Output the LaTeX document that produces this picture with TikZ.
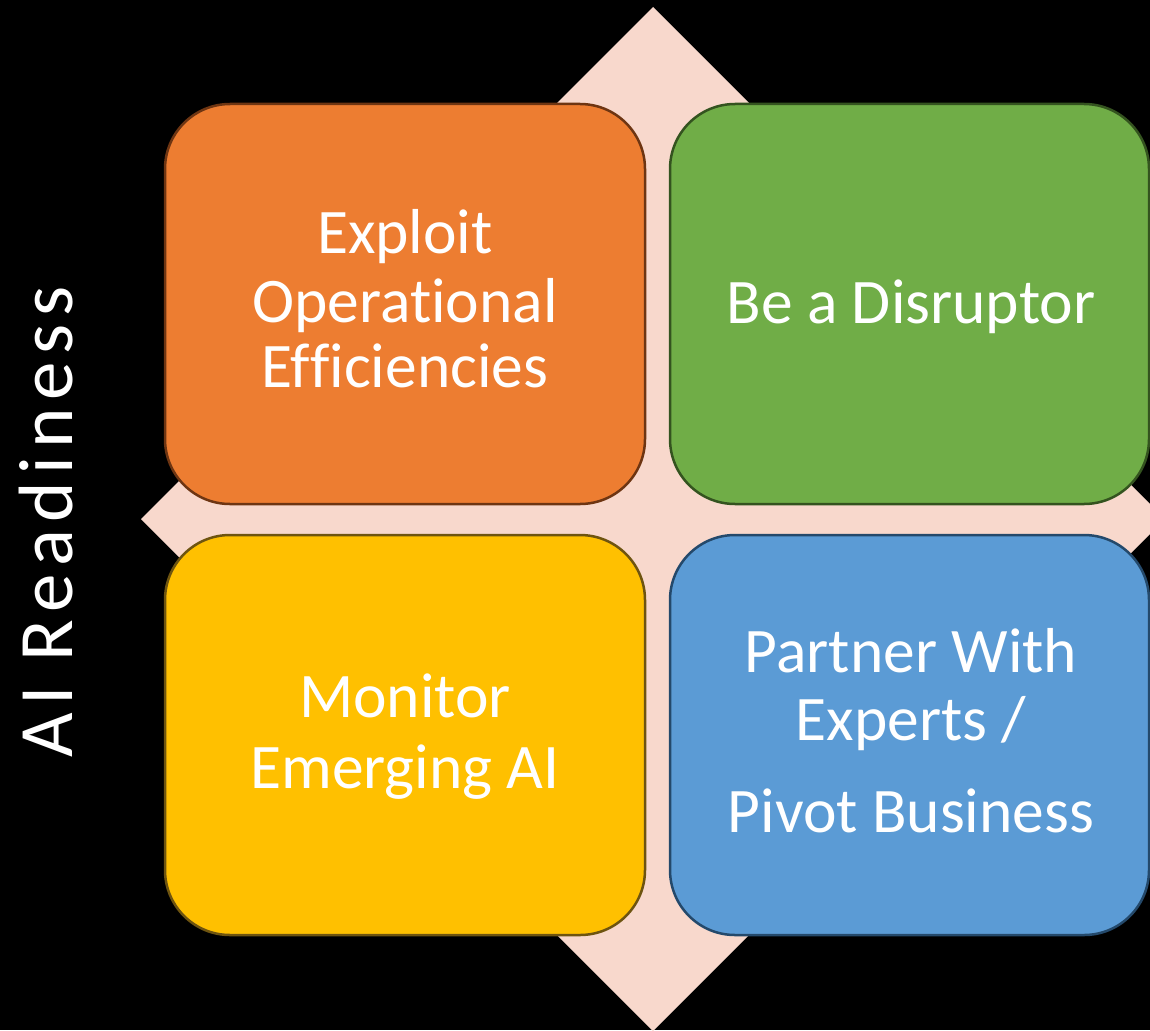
\documentclass[tikz,border=0pt]{standalone}
\usepackage{fontspec}
\setmainfont{Carlito}[Ligatures={NoCommon,NoContextual},RawFeature={-liga;-clig;-dlig}]
\newfontfamily\spacedfont[LetterSpace=10,Ligatures={NoCommon,NoContextual}]{Carlito}
\newcommand{\nolig}{\kern0pt\relax}
\definecolor{bgpink}{HTML}{F8D8CC}
\definecolor{orfill}{HTML}{ED7D31}
\definecolor{ordraw}{HTML}{6E3512}
\definecolor{grfill}{HTML}{70AD47}
\definecolor{grdraw}{HTML}{34531F}
\definecolor{yefill}{HTML}{FFC000}
\definecolor{yedraw}{HTML}{6E5410}
\definecolor{blfill}{HTML}{5B9BD5}
\definecolor{bldraw}{HTML}{24496B}
\tikzset{
  quad/.style={rectangle, rounded corners=65pt, minimum width=480pt, minimum height=400pt, line width=2.5pt, inner sep=0pt},
  lbl/.style={anchor=base, inner sep=0pt, text=white, font=\fontsize{63.5}{76}\selectfont}
}
\begin{document}
\begin{tikzpicture}[x=1pt,y=-1pt]
\fill[black] (0,0) rectangle (1150,1030);
\useasboundingbox (0,0) rectangle (1150,1030);
\begin{scope}
\clip (0,0) rectangle (1150,1030);
\fill[bgpink] (653,7) -- (1165,519) -- (653,1031) -- (141,519) -- cycle;
\node[quad, fill=orfill, draw=ordraw] (q1) at (405,304) {};
\node[quad, fill=grfill, draw=grdraw, minimum width=479pt] (q2) at (909.5,304) {};
\node[quad, fill=yefill, draw=yedraw] (q3) at (405,735) {};
\node[quad, fill=blfill, draw=bldraw, minimum width=479pt] (q4) at (909.5,735) {};
\end{scope}
\node[lbl] (t1a) at (405,253) {Exploit};
\node[lbl] (t1b) at (405,322) {Operat\nolig ional};
\node[lbl] (t1c) at (405,387) {Ef\nolig f\nolig iciencies};
\node[lbl] (t2a) at (911,323) {Be a Disruptor};
\node[lbl] (t3a) at (405,717) {Monitor};
\node[lbl] (t3b) at (405,788) {Emerging AI};
\node[lbl] (t4a) at (911,672) {Partner With};
\node[lbl] (t4b) at (911,740) {Experts /};
\node[lbl] (t4c) at (911,832) {Pivot Business};
\node[rotate=90, anchor=base west, inner sep=0pt, text=white, font=\spacedfont\fontsize{77}{90}\selectfont] (axis) at (72,758) {AI Readiness};
\end{tikzpicture}
\end{document}
